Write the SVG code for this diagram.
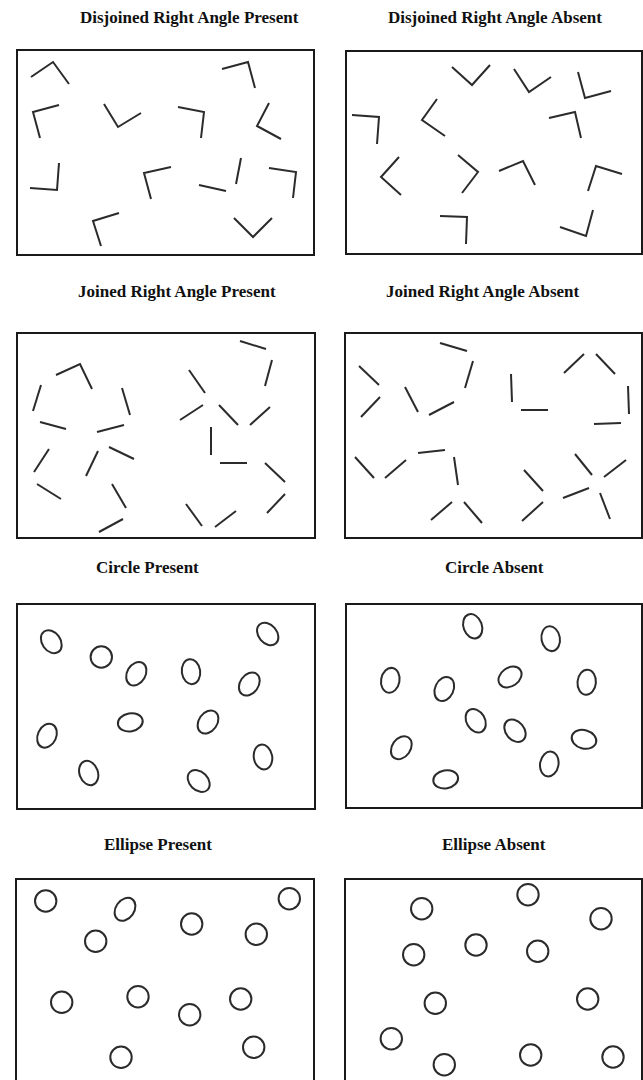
<svg xmlns="http://www.w3.org/2000/svg" width="643" height="1080" viewBox="0 0 643 1080">
<style>
.bg{fill:#fff}
.frame{fill:none;stroke:#1a1a1a;stroke-width:2}
.s{fill:none;stroke:#2b2b2b;stroke-width:2;stroke-linecap:butt;stroke-linejoin:miter}
.t{font-family:"Liberation Serif","Times New Roman",serif;font-weight:bold;font-size:17px;fill:#111}
</style>
<rect class="bg" x="0" y="0" width="643" height="1080"/>

<g id="titles">
<text class="t" x="80" y="23">Disjoined Right Angle Present</text>
<text class="t" x="388" y="23">Disjoined Right Angle Absent</text>
<text class="t" x="78" y="297">Joined Right Angle Present</text>
<text class="t" x="386" y="297">Joined Right Angle Absent</text>
<text class="t" x="96" y="573">Circle Present</text>
<text class="t" x="445" y="573">Circle Absent</text>
<text class="t" x="104" y="850">Ellipse Present</text>
<text class="t" x="442" y="850">Ellipse Absent</text>
</g>

<g id="panel-disjoined-present">
<rect class="frame" x="17" y="50" width="297" height="205"/>
<polyline class="s" points="31,77 53,62 69,84"/>
<polyline class="s" points="222,69 248,62 255,88"/>
<polyline class="s" points="59,105 33,112 40,138"/>
<polyline class="s" points="104,104 118,127 141,113"/>
<polyline class="s" points="178,107 204,112 201,138"/>
<polyline class="s" points="269,103 257,126 281,139"/>
<polyline class="s" points="30,188 57,190 59,163"/>
<polyline class="s" points="171,167 144,173 151,199"/>
<line class="s" x1="199" y1="185" x2="226" y2="191"/>
<line class="s" x1="241" y1="158" x2="236" y2="184"/>
<polyline class="s" points="269,168 296,172 293,198"/>
<polyline class="s" points="119,213 93,221 101,246"/>
<polyline class="s" points="234,218 253,237 272,218"/>
</g>

<g id="panel-disjoined-absent">
<rect class="frame" x="346" y="51" width="296" height="203"/>
<polyline class="s" points="452,67 472,85 490,65"/>
<polyline class="s" points="514,69 529,92 551,77"/>
<polyline class="s" points="578,72 585,98 611,91"/>
<polyline class="s" points="352,115 379,117 377,144"/>
<polyline class="s" points="437,99 422,120 445,136"/>
<polyline class="s" points="549,118 575,112 581,138"/>
<polyline class="s" points="399,157 381,177 401,195"/>
<polyline class="s" points="458,155 478,172 462,193"/>
<polyline class="s" points="499,171 523,161 535,185"/>
<polyline class="s" points="588,191 596,166 622,174"/>
<polyline class="s" points="440,216 467,217 466,244"/>
<polyline class="s" points="593,210 586,236 560,227"/>
</g>

<g id="panel-joined-present">
<rect class="frame" x="17" y="333" width="298" height="205"/>
<polyline class="s" points="56,375 80,364 92,389"/>
<line class="s" x1="41" y1="385" x2="33" y2="411"/>
<line class="s" x1="122" y1="388" x2="130" y2="415"/>
<line class="s" x1="40" y1="422" x2="66" y2="429"/>
<line class="s" x1="97" y1="432" x2="124" y2="425"/>
<line class="s" x1="49" y1="449" x2="34" y2="472"/>
<line class="s" x1="98" y1="451" x2="86" y2="476"/>
<line class="s" x1="109" y1="447" x2="134" y2="459"/>
<line class="s" x1="37" y1="484" x2="61" y2="499"/>
<line class="s" x1="112" y1="484" x2="126" y2="508"/>
<line class="s" x1="123" y1="519" x2="99" y2="532"/>
<line class="s" x1="240" y1="341" x2="266" y2="349"/>
<line class="s" x1="272" y1="360" x2="265" y2="386"/>
<line class="s" x1="189" y1="370" x2="205" y2="393"/>
<line class="s" x1="203" y1="405" x2="180" y2="420"/>
<line class="s" x1="219" y1="405" x2="238" y2="425"/>
<line class="s" x1="270" y1="407" x2="250" y2="425"/>
<line class="s" x1="211" y1="427" x2="211" y2="455"/>
<line class="s" x1="220" y1="463" x2="247" y2="463"/>
<line class="s" x1="265" y1="463" x2="285" y2="482"/>
<line class="s" x1="285" y1="494" x2="267" y2="513"/>
<line class="s" x1="186" y1="504" x2="202" y2="526"/>
<line class="s" x1="236" y1="511" x2="215" y2="527"/>
</g>

<g id="panel-joined-absent">
<rect class="frame" x="345" y="333" width="297" height="205"/>
<line class="s" x1="440" y1="343" x2="467" y2="351"/>
<line class="s" x1="473" y1="361" x2="465" y2="388"/>
<line class="s" x1="359" y1="366" x2="379" y2="385"/>
<line class="s" x1="380" y1="397" x2="361" y2="417"/>
<line class="s" x1="405" y1="387" x2="418" y2="412"/>
<line class="s" x1="454" y1="402" x2="429" y2="415"/>
<line class="s" x1="511" y1="374" x2="512" y2="402"/>
<line class="s" x1="521" y1="410" x2="548" y2="410"/>
<line class="s" x1="584" y1="354" x2="564" y2="373"/>
<line class="s" x1="596" y1="354" x2="615" y2="374"/>
<line class="s" x1="628" y1="386" x2="629" y2="414"/>
<line class="s" x1="621" y1="423" x2="594" y2="424"/>
<line class="s" x1="355" y1="457" x2="374" y2="478"/>
<line class="s" x1="406" y1="460" x2="385" y2="478"/>
<line class="s" x1="418" y1="453" x2="445" y2="450"/>
<line class="s" x1="454" y1="457" x2="458" y2="485"/>
<line class="s" x1="452" y1="502" x2="431" y2="520"/>
<line class="s" x1="464" y1="502" x2="482" y2="523"/>
<line class="s" x1="524" y1="470" x2="543" y2="491"/>
<line class="s" x1="543" y1="502" x2="522" y2="521"/>
<line class="s" x1="575" y1="454" x2="592" y2="475"/>
<line class="s" x1="626" y1="460" x2="604" y2="477"/>
<line class="s" x1="589" y1="488" x2="563" y2="498"/>
<line class="s" x1="600" y1="493" x2="610" y2="519"/>
</g>

<g id="panel-circle-present">
<rect class="frame" x="17" y="604" width="298" height="205"/>
<ellipse class="s" cx="0" cy="0" rx="9.2" ry="12.5" transform="translate(51.3,641.7) rotate(-35)"/>
<circle class="s" cx="101.3" cy="657" r="10.7"/>
<ellipse class="s" cx="0" cy="0" rx="9.2" ry="12.5" transform="translate(136.3,673.7) rotate(30)"/>
<ellipse class="s" cx="0" cy="0" rx="9.2" ry="12.5" transform="translate(191,671.7) rotate(-8)"/>
<ellipse class="s" cx="0" cy="0" rx="9.2" ry="12.5" transform="translate(267.7,634) rotate(-40)"/>
<ellipse class="s" cx="0" cy="0" rx="9.2" ry="12.5" transform="translate(249.3,684) rotate(35)"/>
<ellipse class="s" cx="0" cy="0" rx="12.5" ry="9" transform="translate(130.3,722.3) rotate(-10)"/>
<ellipse class="s" cx="0" cy="0" rx="9.2" ry="12.5" transform="translate(208,722) rotate(35)"/>
<ellipse class="s" cx="0" cy="0" rx="9.2" ry="12.5" transform="translate(47,735.7) rotate(25)"/>
<ellipse class="s" cx="0" cy="0" rx="9.2" ry="12.5" transform="translate(88.7,773) rotate(-20)"/>
<ellipse class="s" cx="0" cy="0" rx="9.2" ry="12.5" transform="translate(198.7,781) rotate(-45)"/>
<ellipse class="s" cx="0" cy="0" rx="9.2" ry="12.5" transform="translate(263,757) rotate(-10)"/>
</g>

<g id="panel-circle-absent">
<rect class="frame" x="346" y="604" width="296" height="204"/>
<ellipse class="s" cx="0" cy="0" rx="9.2" ry="12.5" transform="translate(472.7,626.3) rotate(-20)"/>
<ellipse class="s" cx="0" cy="0" rx="9.2" ry="12.5" transform="translate(550.7,638.7) rotate(-10)"/>
<ellipse class="s" cx="0" cy="0" rx="9.2" ry="12.5" transform="translate(390.3,680.3) rotate(10)"/>
<ellipse class="s" cx="0" cy="0" rx="9.2" ry="12.5" transform="translate(444.3,689) rotate(25)"/>
<ellipse class="s" cx="0" cy="0" rx="9.2" ry="12.5" transform="translate(510,677) rotate(55)"/>
<ellipse class="s" cx="0" cy="0" rx="9.2" ry="12.5" transform="translate(586.7,682.3) rotate(5)"/>
<ellipse class="s" cx="0" cy="0" rx="9.2" ry="12.5" transform="translate(475.7,720.7) rotate(-30)"/>
<ellipse class="s" cx="0" cy="0" rx="9.2" ry="12.5" transform="translate(515,730.7) rotate(-40)"/>
<ellipse class="s" cx="0" cy="0" rx="9.2" ry="12.5" transform="translate(401.3,747.7) rotate(35)"/>
<ellipse class="s" cx="0" cy="0" rx="12.5" ry="9.2" transform="translate(584,739.3) rotate(15)"/>
<ellipse class="s" cx="0" cy="0" rx="9.2" ry="12.5" transform="translate(549.3,764) rotate(10)"/>
<ellipse class="s" cx="0" cy="0" rx="12.5" ry="9" transform="translate(445.7,779.3) rotate(-10)"/>
</g>

<g id="panel-ellipse-present">
<rect class="frame" x="16" y="879" width="298" height="215"/>
<circle class="s" cx="45.7" cy="901" r="10.7"/>
<ellipse class="s" cx="0" cy="0" rx="9.2" ry="12.5" transform="translate(125,909.3) rotate(35)"/>
<circle class="s" cx="191.7" cy="924" r="10.7"/>
<circle class="s" cx="289.3" cy="898.7" r="10.7"/>
<circle class="s" cx="95.7" cy="941.3" r="10.7"/>
<circle class="s" cx="256.3" cy="934.3" r="10.7"/>
<circle class="s" cx="61.7" cy="1002.3" r="10.7"/>
<circle class="s" cx="138" cy="996.7" r="10.7"/>
<circle class="s" cx="189.7" cy="1014.7" r="10.7"/>
<circle class="s" cx="240.7" cy="999" r="10.7"/>
<circle class="s" cx="121" cy="1057.3" r="10.7"/>
<circle class="s" cx="253.7" cy="1047.3" r="10.7"/>
</g>

<g id="panel-ellipse-absent">
<rect class="frame" x="345" y="879" width="297" height="215"/>
<circle class="s" cx="421.7" cy="908.7" r="10.7"/>
<circle class="s" cx="528" cy="894.7" r="10.7"/>
<circle class="s" cx="601" cy="918.7" r="10.7"/>
<circle class="s" cx="413.7" cy="954.7" r="10.7"/>
<circle class="s" cx="476" cy="945" r="10.7"/>
<circle class="s" cx="537.7" cy="951.3" r="10.7"/>
<circle class="s" cx="435.3" cy="1003.3" r="10.7"/>
<circle class="s" cx="587.7" cy="999" r="10.7"/>
<circle class="s" cx="391.3" cy="1038.7" r="10.7"/>
<circle class="s" cx="444.3" cy="1064.7" r="10.7"/>
<circle class="s" cx="530.7" cy="1055" r="10.7"/>
<circle class="s" cx="613" cy="1057" r="10.7"/>
</g>
</svg>
